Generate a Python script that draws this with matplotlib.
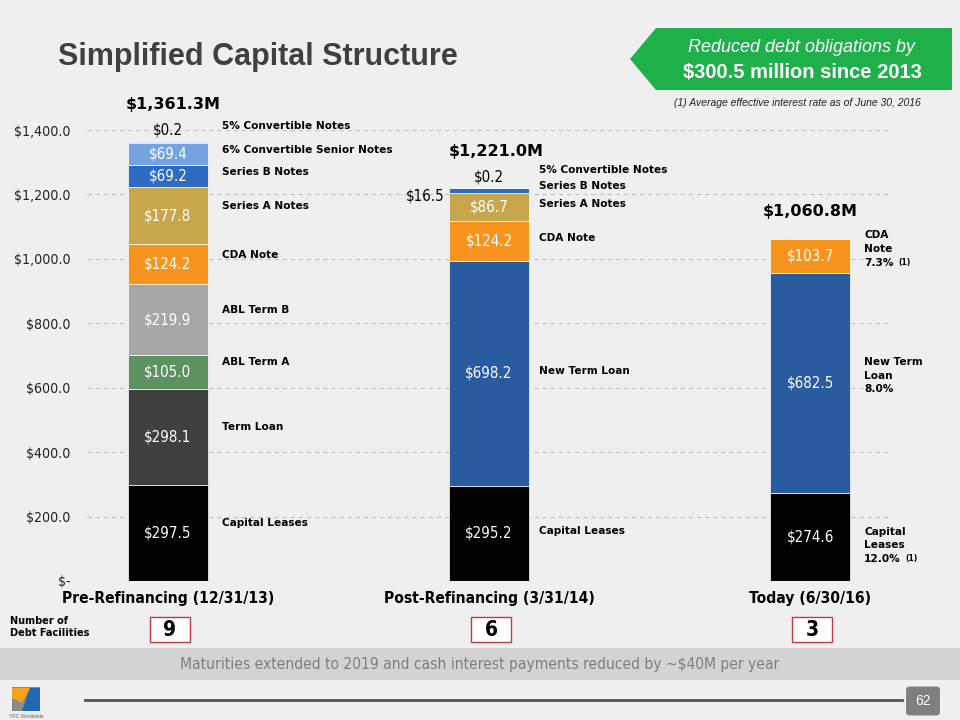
import matplotlib
matplotlib.use("Agg")
import matplotlib.pyplot as plt
from matplotlib.patches import Polygon, Rectangle, FancyBboxPatch
from matplotlib import font_manager as fm
from matplotlib.transforms import blended_transform_factory
import numpy as np

# ---------------- data ----------------
categories = ["Pre-Refinancing (12/31/13)", "Post-Refinancing (3/31/14)", "Today (6/30/16)"]
totals = ["$1,361.3M", "$1,221.0M", "$1,060.8M"]
debt_facilities = ["9", "6", "3"]

bar1_names = ["Capital Leases", "Term Loan", "ABL Term A", "ABL Term B", "CDA Note",
              "Series A Notes", "Series B Notes", "6% Convertible Senior Notes", "5% Convertible Notes"]
bar1_values = [297.5, 298.1, 105.0, 219.9, 124.2, 177.8, 69.2, 69.4, 0.2]

bar2_names = ["Capital Leases", "New Term Loan", "CDA Note", "Series A Notes", "Series B Notes",
              "5% Convertible Notes"]
bar2_values = [295.2, 698.2, 124.2, 86.7, 16.5, 0.2]

bar3_names = ["Capital\nLeases\n12.0%", "New Term\nLoan\n8.0%", "CDA\nNote\n7.3%"]
bar3_values = [274.6, 682.5, 103.7]
bar3_footnote = [True, False, True]

yticks = [0, 200, 400, 600, 800, 1000, 1200, 1400]

colors = {
    "Capital Leases": "#000000",
    "Term Loan": "#404040",
    "ABL Term A": "#5e9160",
    "ABL Term B": "#a6a6a6",
    "CDA Note": "#f7941e",
    "Series A Notes": "#c8a64c",
    "Series B Notes": "#2e6cc4",
    "6% Convertible Senior Notes": "#75a3df",
    "5% Convertible Notes": "#4d74b0",
    "New Term Loan": "#2a5ba1",
}
bar3_colors = ["#000000", "#2a5ba1", "#f7941e"]

_names = {f.name for f in fm.fontManager.ttflist}
if "Liberation Sans Narrow" in _names:
    NARROW = ["Liberation Sans Narrow", "DejaVu Sans"]
    NSTRETCH = "normal"
else:
    NARROW = ["DejaVu Sans"]
    NSTRETCH = "condensed"
SANS = ["Liberation Sans", "DejaVu Sans"]
HEAVY = ["DejaVu Sans"]

W, H = 960, 720
fig = plt.figure(figsize=(9.6, 7.2), dpi=100)
fig.patch.set_facecolor("#efefef")


def fx(x):
    return x / W


def fy(y):
    return 1 - y / H


# ---------------- slide decorations ----------------
fig.text(fx(58), fy(57), "Simplified Capital Structure", fontsize=22, fontweight="bold",
         color="#404040", family=SANS, va="center", ha="left")

banner = Polygon([(fx(630), fy(59)), (fx(656), fy(28)), (fx(952), fy(28)), (fx(952), fy(90)),
                  (fx(656), fy(90))], closed=True, transform=fig.transFigure,
                 facecolor="#1fb04c", edgecolor="none")
fig.patches.append(banner)
fig.text(fx(802), fy(48), "Reduced debt obligations by", fontsize=13, style="italic",
         color="white", family=SANS, ha="center", va="center")
fig.text(fx(802), fy(73), "$300.5 million since 2013", fontsize=14.5, fontweight="bold",
         color="white", family=SANS, ha="center", va="center")
fig.text(fx(797), fy(103), "(1) Average effective interest rate as of June 30, 2016", fontsize=7.5,
         style="italic", color="#222222", family=SANS, ha="center", va="center")

# bottom gray band
band = Rectangle((0, fy(680)), 1, (680 - 648) / H, transform=fig.transFigure,
                 facecolor="#d3d3d3", edgecolor="none")
fig.patches.append(band)
fig.text(fx(480), fy(665), "Maturities extended to 2019 and cash interest payments reduced by ~$40M per year",
         fontsize=11.2, fontstretch=NSTRETCH, color="#7f7f7f", family=NARROW,
         ha="center", va="center")

# footer line + page number
fig.lines.append(plt.Line2D([fx(85), fx(902)], [fy(700), fy(700)], transform=fig.transFigure,
                            color="#555555", lw=2))
pbox = FancyBboxPatch((fx(908), fy(714)), 30 / W, 26 / H, boxstyle="round,pad=0.002,rounding_size=0.004",
                      transform=fig.transFigure, facecolor="#7f7f7f", edgecolor="none")
fig.patches.append(pbox)
fig.text(fx(923), fy(701), "62", fontsize=10, color="white", family=SANS, ha="center", va="center")

# logo
fig.patches.append(Rectangle((fx(12), fy(711)), 28 / W, 24 / H, transform=fig.transFigure,
                             facecolor="#8a8a8a", edgecolor="none"))
fig.patches.append(Polygon([(fx(12), fy(688)), (fx(30), fy(688)), (fx(22), fy(703)), (fx(12), fy(698))],
                           transform=fig.transFigure, facecolor="#f7a21b", edgecolor="none"))
fig.patches.append(Polygon([(fx(30), fy(688)), (fx(40), fy(688)), (fx(40), fy(711)), (fx(22), fy(711))],
                           transform=fig.transFigure, facecolor="#1f66b3", edgecolor="none"))
fig.text(fx(26), fy(716), "YRC Worldwide", fontsize=3.5, color="#666666", family=SANS,
         ha="center", va="center")

# number of debt facilities
fig.text(fx(10), fy(627), "Number of\nDebt Facilities", fontsize=7.8, fontweight="bold",
         fontstretch=NSTRETCH, color="black", family=NARROW, ha="left", va="center", linespacing=1.3)

# ---------------- chart ----------------
ax = fig.add_axes([fx(87), fy(581), (891 - 87) / W, (581 - 130) / H])
ax.set_facecolor("none")
ax.set_xlim(-0.252, 2.252)
ax.set_ylim(0, 1400)
for s in ax.spines.values():
    s.set_visible(False)
ax.set_yticks(yticks)
ax.set_yticklabels(["$-" if v == 0 else "${:,.1f}".format(v) for v in yticks],
                   fontsize=10.2, fontstretch=NSTRETCH, color="#222222", family=NARROW)
ax.tick_params(axis="y", length=0, pad=12)
ax.tick_params(axis="x", length=0, pad=7)
ax.set_xticks([0, 1, 2])
ax.set_xticklabels(categories, fontsize=11.2, fontweight="bold", fontstretch=NSTRETCH,
                   family=NARROW, color="black")
ax.set_axisbelow(True)
ax.yaxis.grid(True, color="#c4c4c4", lw=0.9, linestyle=(0, (3.5, 3)))

bw = 0.25


def draw_stack(xpos, values, cols):
    bottoms = np.concatenate([[0], np.cumsum(values)[:-1]])
    ax.bar([xpos] * len(values), values, bottom=bottoms, width=bw, color=cols,
           edgecolor="white", linewidth=0.5, zorder=3)
    return bottoms


label_kw = dict(fontsize=7.6, fontweight="bold", family=HEAVY, color="black", va="center", ha="left")
val_kw = dict(fontsize=10.8, fontstretch=NSTRETCH, family=NARROW, ha="center", va="center", zorder=5)

# Bar 1
b1 = draw_stack(0, bar1_values, [colors[n] for n in bar1_names])
lx1 = 0.168
for i, (n, v, b) in enumerate(zip(bar1_names, bar1_values, b1)):
    c = b + v / 2
    if n == "5% Convertible Notes":
        ax.text(0, 1400, "$0.2", color="black", **val_kw)
        ax.annotate(n, (lx1, b + v), xytext=(0, 12), textcoords="offset points", **label_kw)
        continue
    ax.text(0, c, "${:.1f}".format(v), color="white", **val_kw)
    ax.annotate(n, (lx1, c), xytext=(0, 7 if v > 100 else 3), textcoords="offset points", **label_kw)

# Bar 2
b2 = draw_stack(1, bar2_values, [colors[n] for n in bar2_names])
lx2 = 1.157
for n, v, b in zip(bar2_names, bar2_values, b2):
    c = b + v / 2
    if n == "5% Convertible Notes":
        ax.annotate("$0.2", (1, b + v), xytext=(0, 8), textcoords="offset points", color="black", **val_kw)
        ax.annotate(n, (lx2, b + v), xytext=(0, 13), textcoords="offset points", **label_kw)
        continue
    if n == "Series B Notes":
        kw = dict(val_kw)
        kw.update(ha="right")
        ax.annotate("$16.5", (1 - bw / 2, c), xytext=(-3, -4), textcoords="offset points",
                    color="black", **kw)
        ax.annotate(n, (lx2, c), xytext=(0, 3), textcoords="offset points", **label_kw)
        continue
    ax.text(1, c, "${:.1f}".format(v), color="white", **val_kw)
    ax.annotate(n, (lx2, c), xytext=(0, 2), textcoords="offset points", **label_kw)

# Bar 3
b3 = draw_stack(2, bar3_values, bar3_colors)
lx3 = 2.168
for n, v, b, fn in zip(bar3_names, bar3_values, b3, bar3_footnote):
    c = b + v / 2
    ax.text(2, c, "${:.1f}".format(v), color="white", **val_kw)
    ax.annotate(n, (lx3, c), xytext=(0, -6 if "Capital" in n else 5),
                textcoords="offset points", linespacing=1.45, **label_kw)
    if fn:
        ax.annotate("(1)", (lx3, c), xytext=(30 if "Capital" in n else 25,
                                              -16 if "Capital" in n else -5),
                    textcoords="offset points", fontsize=5.5, fontweight="bold",
                    family=HEAVY, color="black", va="center", ha="left")

# totals
tot_vals = [sum(bar1_values), sum(bar2_values), sum(bar3_values)]
tot_off = [(4, 27), (5, 26), (0, 20)]
for i, (t, v) in enumerate(zip(totals, tot_vals)):
    ax.annotate(t, (i, v), xytext=tot_off[i], textcoords="offset points", ha="center", va="center",
                fontsize=11.5, fontweight="bold", family=HEAVY, color="black")

# facility boxes
btrans = blended_transform_factory(ax.transData, fig.transFigure)
box_w = 0.125
for i, n in enumerate(debt_facilities):
    fig.patches.append(Rectangle((i + 0.006 - box_w / 2, fy(642)), box_w, 25 / H, transform=btrans,
                                 facecolor="white", edgecolor="#c0393b", lw=1.0, zorder=4))
    fig.text(i + 0.006, fy(629.5), n, transform=btrans, ha="center", va="center",
             fontsize=15, fontweight="bold", family=NARROW, fontstretch=NSTRETCH, color="black",
             zorder=5)

fig.savefig("out.png", dpi=100, facecolor=fig.get_facecolor())
